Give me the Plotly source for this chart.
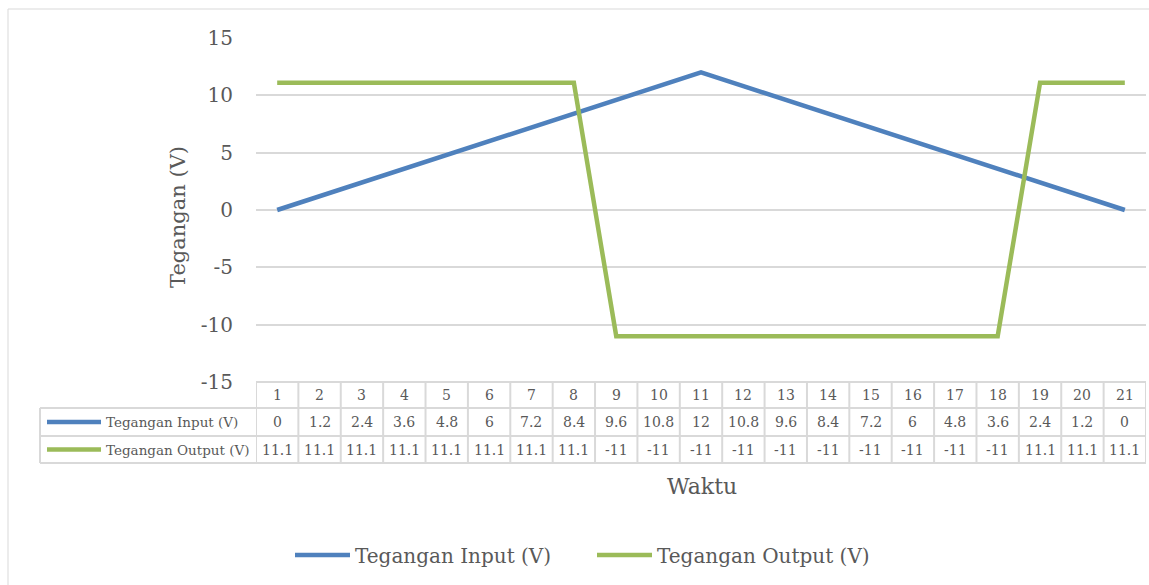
import plotly.graph_objects as go

# ---- data ----
waktu = list(range(1, 22))
tegangan_input = [0, 1.2, 2.4, 3.6, 4.8, 6, 7.2, 8.4, 9.6, 10.8, 12, 10.8, 9.6, 8.4, 7.2, 6, 4.8, 3.6, 2.4, 1.2, 0]
tegangan_output = [11.1] * 8 + [-11] * 10 + [11.1] * 3
input_labels = ["0", "1.2", "2.4", "3.6", "4.8", "6", "7.2", "8.4", "9.6", "10.8", "12",
                "10.8", "9.6", "8.4", "7.2", "6", "4.8", "3.6", "2.4", "1.2", "0"]
output_labels = ["11.1"] * 8 + ["-11"] * 10 + ["11.1"] * 3
series_names = ["Tegangan Input (V)", "Tegangan Output (V)"]
y_ticks = [-15, -10, -5, 0, 5, 10, 15]
y_tick_text = ["-15", "-10", "-5", "0", "5", "10", "15"]

BLUE = "#4F81BD"
GREEN = "#9BBB59"
TXT = "#595959"
GRID = "#D9D9D9"
FONT = "DejaVu Serif"

W, H = 1149, 585
L, R, T, B = 256, 3, 38, 203
PW = W - L - R
PH = H - T - B


def px_x(p):
    return (p - L) / PW


def px_y(p):
    return (H - B - p) / PH


fig = go.Figure()
fig.add_trace(go.Scatter(x=waktu, y=tegangan_input, mode="lines", name=series_names[0],
                         line=dict(color=BLUE, width=4.5)))
fig.add_trace(go.Scatter(x=waktu, y=tegangan_output, mode="lines", name=series_names[1],
                         line=dict(color=GREEN, width=4.5)))

shapes = []
# outer chart frame
shapes.append(dict(type="rect", xref="paper", yref="paper", x0=px_x(8), x1=px_x(1170),
                   y0=px_y(600), y1=px_y(9), line=dict(color=GRID, width=1), layer="below"))

# data table rows
row_top, row1, row2, row3 = H - B, 408, 436, 463
for yy, x0 in [(row_top, 0.5), (row1, None), (row2, None), (row3, None)]:
    if x0 is None:
        shapes.append(dict(type="line", xref="paper", yref="paper", x0=px_x(40), x1=1,
                           y0=px_y(yy), y1=px_y(yy), line=dict(color=GRID, width=2)))
    else:
        shapes.append(dict(type="line", xref="x", yref="paper", x0=0.5, x1=len(waktu) + 0.5,
                           y0=px_y(yy), y1=px_y(yy), line=dict(color=GRID, width=2)))
for i in range(len(waktu) + 1):
    shapes.append(dict(type="line", xref="x", yref="paper", x0=i + 0.5, x1=i + 0.5,
                       y0=px_y(row_top), y1=px_y(row3), line=dict(color=GRID, width=2)))
shapes.append(dict(type="line", xref="paper", yref="paper", x0=px_x(40), x1=px_x(40),
                   y0=px_y(row1), y1=px_y(row3), line=dict(color=GRID, width=2)))
# legend keys inside the table
for yy, col in [((row1 + row2) / 2, BLUE), ((row2 + row3) / 2, GREEN)]:
    shapes.append(dict(type="line", xref="paper", yref="paper", x0=px_x(47), x1=px_x(101),
                       y0=px_y(yy), y1=px_y(yy), line=dict(color=col, width=4.5)))

annotations = []
tfont = dict(family=FONT, size=14, color=TXT)
for i, w in enumerate(waktu):
    annotations.append(dict(x=w, xref="x", y=px_y((row_top + row1) / 2), yref="paper",
                            text=str(w), showarrow=False, font=tfont, yanchor="middle"))
    annotations.append(dict(x=w, xref="x", y=px_y((row1 + row2) / 2), yref="paper",
                            text=input_labels[i], showarrow=False, font=tfont, yanchor="middle"))
    annotations.append(dict(x=w, xref="x", y=px_y((row2 + row3) / 2), yref="paper",
                            text=output_labels[i], showarrow=False, font=tfont, yanchor="middle"))
for yy, name in [((row1 + row2) / 2, series_names[0]), ((row2 + row3) / 2, series_names[1])]:
    annotations.append(dict(x=px_x(104), xref="paper", y=px_y(yy), yref="paper", text=name,
                            showarrow=False, font=dict(family=FONT, size=13.5, color=TXT),
                            xanchor="left", yanchor="middle"))

annotations.append(dict(x=px_x(702), xref="paper", y=px_y(487), yref="paper", text="Waktu",
                        showarrow=False, font=dict(family=FONT, size=22, color=TXT),
                        xanchor="center", yanchor="middle"))
annotations.append(dict(x=px_x(178), xref="paper", y=px_y(217), yref="paper", text="Tegangan (V)",
                        showarrow=False, font=dict(family=FONT, size=21, color=TXT),
                        textangle=-90, xanchor="center", yanchor="middle"))

fig.update_layout(
    width=W, height=H,
    margin=dict(l=L, r=R, t=T, b=B),
    paper_bgcolor="white", plot_bgcolor="white",
    font=dict(family=FONT, color=TXT),
    xaxis=dict(range=[0.5, len(waktu) + 0.5], showgrid=False, showticklabels=False,
               zeroline=False, showline=False, ticks=""),
    yaxis=dict(range=[-15, 15], tickvals=y_ticks, ticktext=y_tick_text, showgrid=True,
               gridcolor=GRID, gridwidth=1.5,
               zeroline=False, showline=False, ticks="", ticklabelstandoff=22,
               tickfont=dict(family=FONT, size=20, color=TXT)),
    showlegend=True,
    legend=dict(orientation="h", x=px_x(290), xanchor="left", y=px_y(555), yanchor="middle",
                font=dict(family=FONT, size=20, color=TXT), itemwidth=55,
                entrywidth=232, entrywidthmode="pixels"),
    shapes=shapes, annotations=annotations,
)

fig.write_html("out.html", config={"displayModeBar": False},
               post_script="document.body.style.margin='0';")
